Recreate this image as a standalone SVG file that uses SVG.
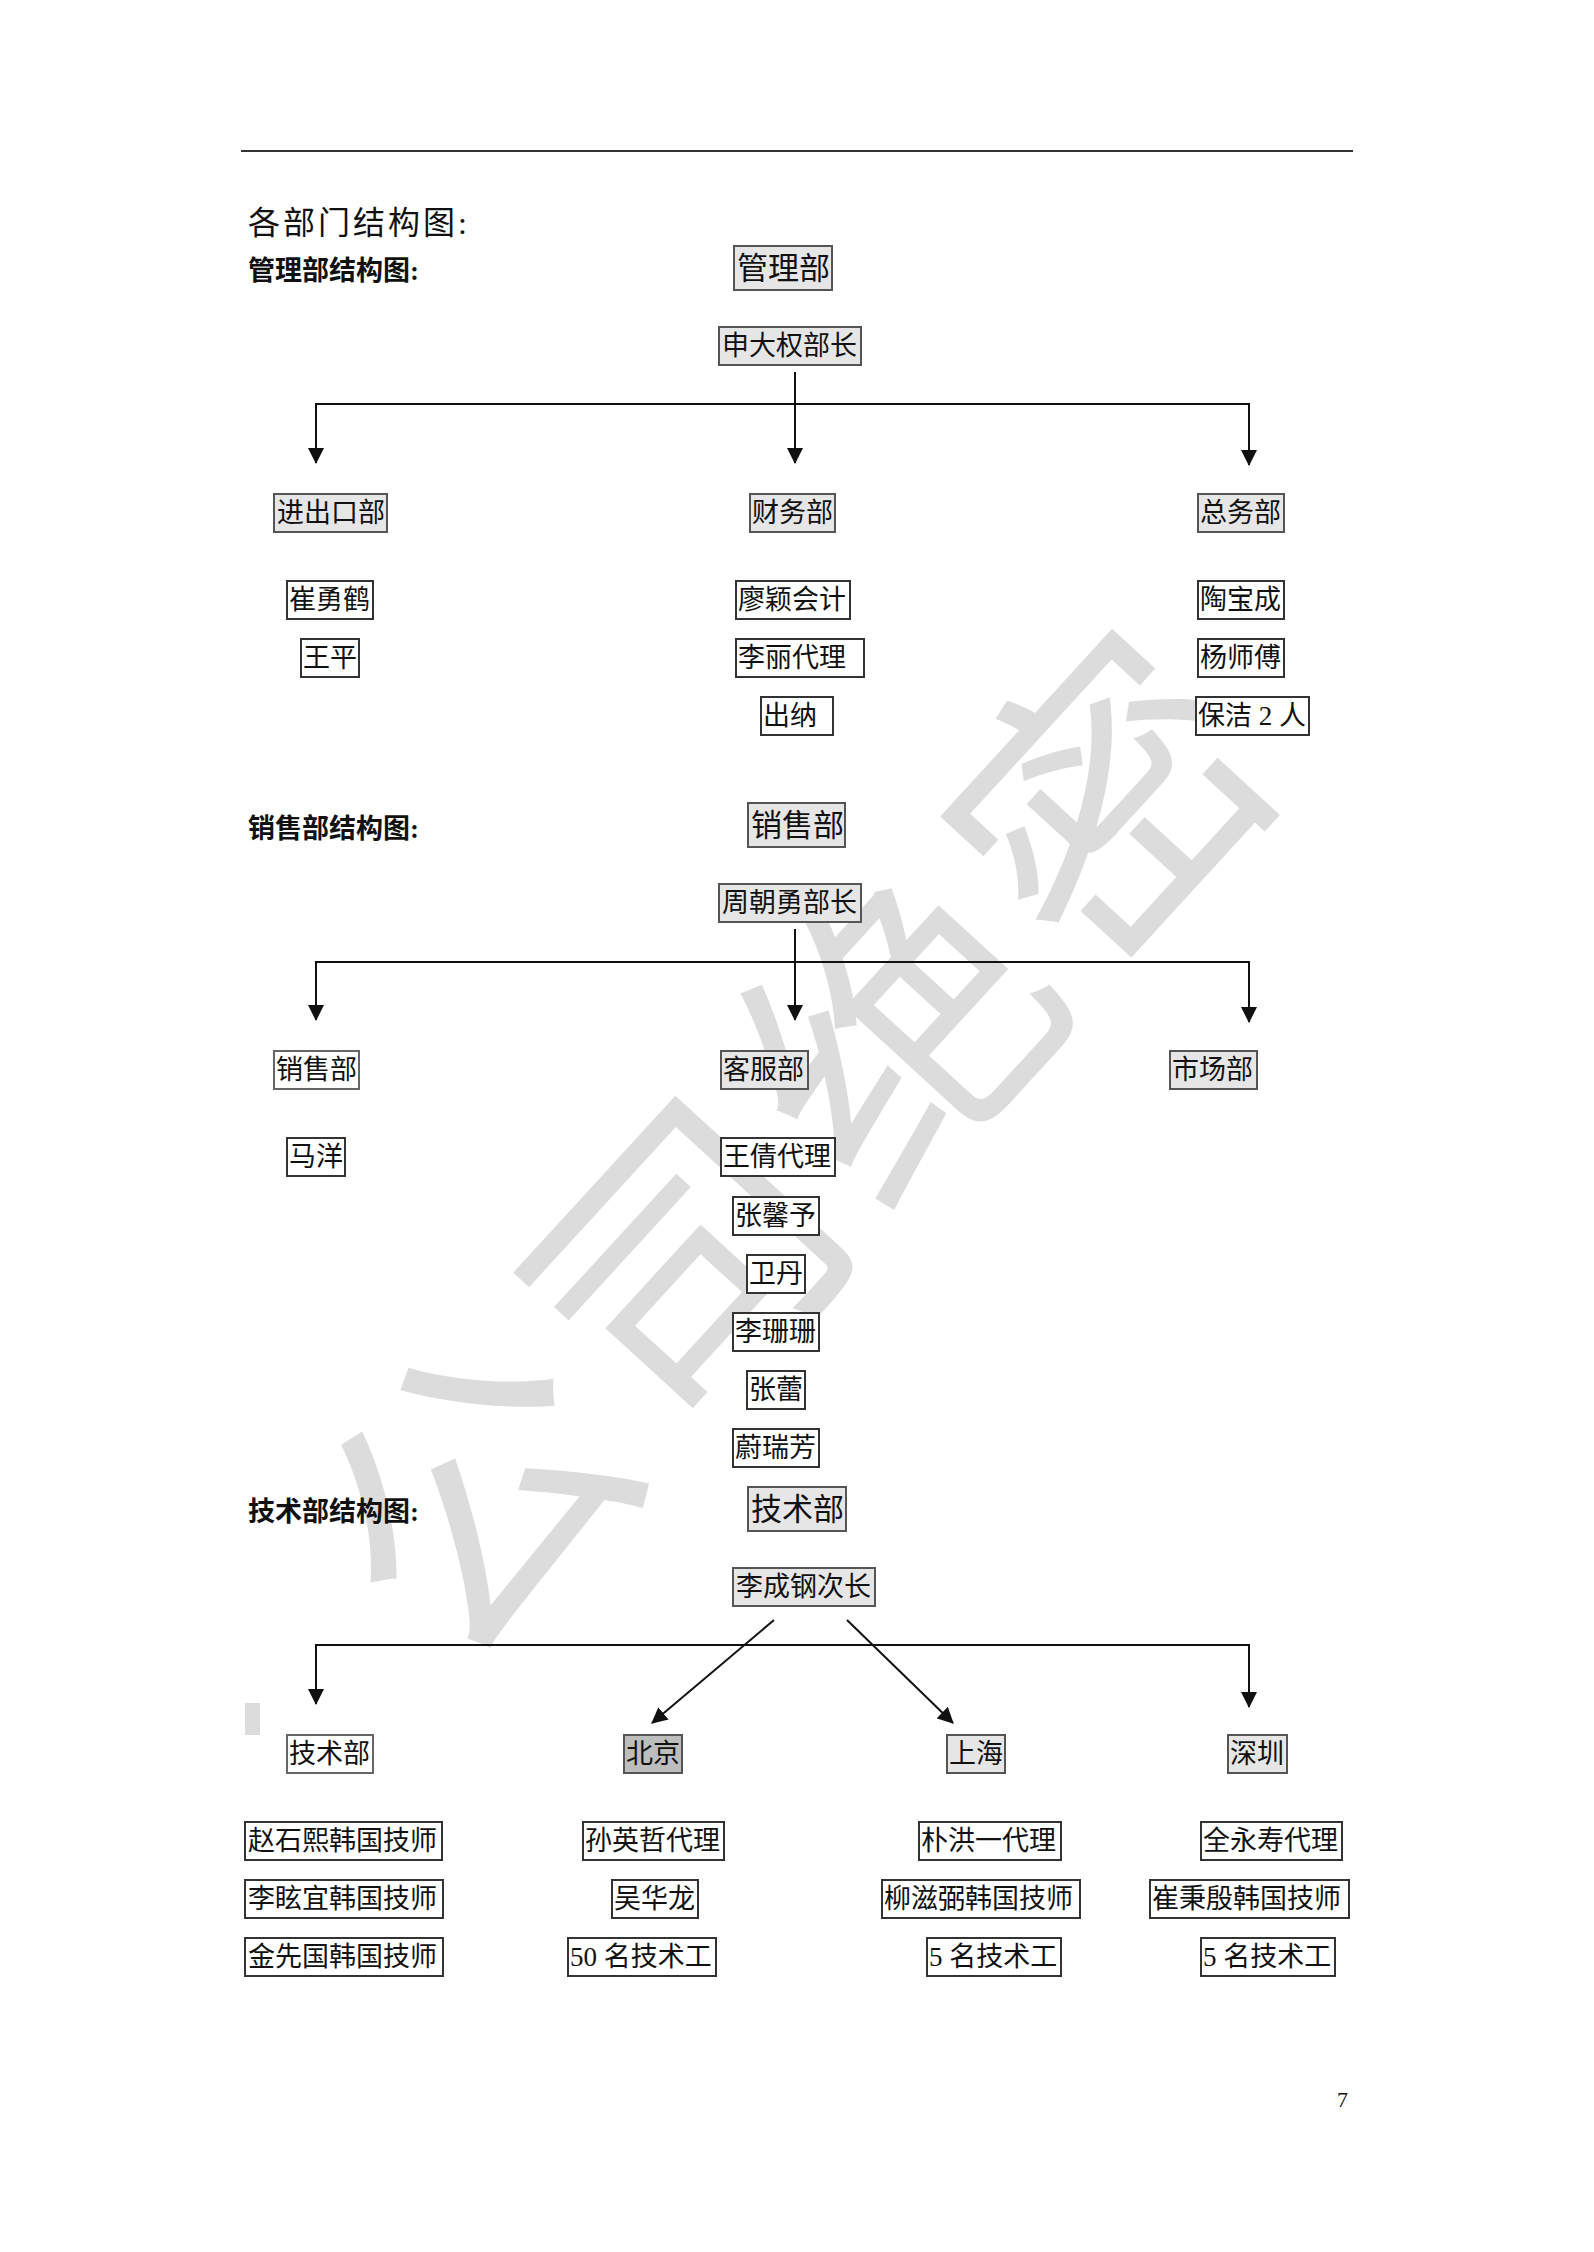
<svg xmlns="http://www.w3.org/2000/svg" width="1594" height="2252" viewBox="0 0 1594 2252">
<style>
  text { font-family: "Liberation Serif", "Noto Sans CJK SC", serif; fill: #111; }
  .t { font-size: 27px; }
  .tb { font-size: 31px; }
  .h { font-size: 27px; font-weight: bold; }
  .title { font-size: 32px; letter-spacing: 3px; }
  .dept rect { fill: #e6e6e6; stroke: #555; stroke-width: 2; }
  .plain rect { fill: #ffffff; stroke: #666; stroke-width: 2; }
  .dark rect { fill: #bdbdbd; stroke: #555; stroke-width: 2; }
  .person rect { fill: #ffffff; stroke: #333; stroke-width: 2; }
  .conn path { fill: none; stroke: #111; stroke-width: 2; }
  .wm { font-size: 300px; fill: #dcdcdc; font-weight: normal; letter-spacing: 14px; }
</style>
<defs>
  <marker id="ah" markerUnits="userSpaceOnUse" markerWidth="16" markerHeight="16" viewBox="0 0 16 16" refX="15" refY="8" orient="auto">
    <path d="M0,0 L16,8 L0,16 z" fill="#111"/>
  </marker>
</defs>
<rect x="0" y="0" width="1594" height="2252" fill="#ffffff"/>

<g id="watermark">
  <text class="wm" transform="translate(797,1152) rotate(-47.5)" x="7" y="105" text-anchor="middle">公司绝密</text>
  <rect x="245" y="1703" width="15" height="32" fill="#dcdcdc"/>
</g>

<g id="page-header">
  <line x1="241" y1="151" x2="1353" y2="151" stroke="#333" stroke-width="2"/>
  <text class="title" x="248" y="234">各部门结构图:</text>
  <text x="1337" y="2107" style="font-size:22px">7</text>
</g>

<g id="headings">
  <text class="h" x="248" y="280">管理部结构图:</text>
  <text class="h" x="248" y="838">销售部结构图:</text>
  <text class="h" x="248" y="1521">技术部结构图:</text>
</g>

<g id="connectors" class="conn">
  <path d="M795,372 V463" marker-end="url(#ah)"/>
  <path d="M316,463 V404 H1249 V465" marker-end="url(#ah)"/>
  <path d="M316,404 V463" marker-end="url(#ah)"/>

  <path d="M795,929 V1020" marker-end="url(#ah)"/>
  <path d="M316,1020 V962 H1249 V1022" marker-end="url(#ah)"/>
  <path d="M316,962 V1020" marker-end="url(#ah)"/>

  <path d="M774,1620 L652,1723" marker-end="url(#ah)"/>
  <path d="M847,1620 L953,1723" marker-end="url(#ah)"/>
  <path d="M316,1704 V1645 H1249 V1707" marker-end="url(#ah)"/>
  <path d="M316,1645 V1704" marker-end="url(#ah)"/>
</g>

<!-- Section 1 -->
<g id="n-guanlibu" class="dept"><rect x="734" y="246" width="98" height="44"/><text class="tb" x="737" y="279">管理部</text></g>
<g id="n-shendaquan" class="dept"><rect x="719" y="327" width="142" height="38"/><text class="t" x="722" y="355">申大权部长</text></g>
<g id="n-jinchukou" class="dept"><rect x="274" y="494" width="113" height="38"/><text class="t" x="277" y="522">进出口部</text></g>
<g id="n-caiwu" class="dept"><rect x="750" y="494" width="85" height="38"/><text class="t" x="752" y="522">财务部</text></g>
<g id="n-zongwu" class="dept"><rect x="1198" y="494" width="86" height="38"/><text class="t" x="1200" y="522">总务部</text></g>
<g id="n-cuiyonghe" class="person"><rect x="287" y="581" width="86" height="38"/><text class="t" x="289" y="609">崔勇鹤</text></g>
<g id="n-wangping" class="person"><rect x="301" y="639" width="58" height="38"/><text class="t" x="303" y="667">王平</text></g>
<g id="n-liaoying" class="person"><rect x="736" y="581" width="114" height="38"/><text class="t" x="738" y="609">廖颖会计</text></g>
<g id="n-lili" class="person"><rect x="736" y="639" width="128" height="38"/><text class="t" x="738" y="667">李丽代理</text></g>
<g id="n-chuna" class="person"><rect x="761" y="697" width="72" height="38"/><text class="t" x="763" y="725">出纳</text></g>
<g id="n-taobaocheng" class="person"><rect x="1198" y="581" width="86" height="38"/><text class="t" x="1200" y="609">陶宝成</text></g>
<g id="n-yangshifu" class="person"><rect x="1198" y="639" width="86" height="38"/><text class="t" x="1200" y="667">杨师傅</text></g>
<g id="n-baojie" class="person"><rect x="1196" y="697" width="113" height="38"/><text class="t" x="1198" y="725">保洁 2 人</text></g>

<!-- Section 2 -->
<g id="n-xiaoshoubu" class="dept"><rect x="748" y="803" width="97" height="44"/><text class="tb" x="751" y="836">销售部</text></g>
<g id="n-zhouchaoyong" class="dept"><rect x="719" y="884" width="142" height="38"/><text class="t" x="722" y="912">周朝勇部长</text></g>
<g id="n-xiaoshou-sub" class="plain"><rect x="274" y="1051" width="85" height="38"/><text class="t" x="276" y="1079">销售部</text></g>
<g id="n-kefu" class="dept"><rect x="721" y="1051" width="87" height="38"/><text class="t" x="723" y="1079">客服部</text></g>
<g id="n-shichang" class="dept"><rect x="1170" y="1051" width="87" height="38"/><text class="t" x="1172" y="1079">市场部</text></g>
<g id="n-mayang" class="person"><rect x="287" y="1138" width="58" height="38"/><text class="t" x="289" y="1166">马洋</text></g>
<g id="n-wangqian" class="person"><rect x="721" y="1138" width="114" height="38"/><text class="t" x="723" y="1166">王倩代理</text></g>
<g id="n-zhangxinyu" class="person"><rect x="733" y="1197" width="86" height="38"/><text class="t" x="735" y="1225">张馨予</text></g>
<g id="n-weidan" class="person"><rect x="747" y="1255" width="58" height="38"/><text class="t" x="749" y="1283">卫丹</text></g>
<g id="n-lishanshan" class="person"><rect x="733" y="1313" width="86" height="38"/><text class="t" x="735" y="1341">李珊珊</text></g>
<g id="n-zhanglei" class="person"><rect x="747" y="1371" width="58" height="38"/><text class="t" x="749" y="1399">张蕾</text></g>
<g id="n-weiruifang" class="person"><rect x="733" y="1429" width="86" height="38"/><text class="t" x="735" y="1457">蔚瑞芳</text></g>

<!-- Section 3 -->
<g id="n-jishubu" class="dept"><rect x="748" y="1487" width="98" height="44"/><text class="tb" x="751" y="1520">技术部</text></g>
<g id="n-lichenggang" class="dept"><rect x="733" y="1568" width="142" height="38"/><text class="t" x="736" y="1596">李成钢次长</text></g>
<g id="n-jishu-sub" class="plain"><rect x="287" y="1735" width="86" height="38"/><text class="t" x="289" y="1763">技术部</text></g>
<g id="n-beijing" class="dark"><rect x="624" y="1735" width="58" height="38"/><text class="t" x="626" y="1763">北京</text></g>
<g id="n-shanghai" class="dept"><rect x="947" y="1735" width="58" height="38"/><text class="t" x="949" y="1763">上海</text></g>
<g id="n-shenzhen" class="dept"><rect x="1228" y="1735" width="59" height="38"/><text class="t" x="1230" y="1763">深圳</text></g>
<g id="n-zhaoshixi" class="person"><rect x="245" y="1822" width="197" height="38"/><text class="t" x="248" y="1850">赵石熙韩国技师</text></g>
<g id="n-lixuanyi" class="person"><rect x="245" y="1880" width="198" height="38"/><text class="t" x="248" y="1908">李眩宜韩国技师</text></g>
<g id="n-jinxianguo" class="person"><rect x="245" y="1938" width="198" height="38"/><text class="t" x="248" y="1966">金先国韩国技师</text></g>
<g id="n-sunyingzhe" class="person"><rect x="583" y="1822" width="141" height="38"/><text class="t" x="585" y="1850">孙英哲代理</text></g>
<g id="n-wuhualong" class="person"><rect x="612" y="1880" width="86" height="38"/><text class="t" x="614" y="1908">吴华龙</text></g>
<g id="n-bj-workers" class="person"><rect x="568" y="1938" width="148" height="38"/><text class="t" x="570" y="1966">50 名技术工</text></g>
<g id="n-piaohongyi" class="person"><rect x="919" y="1822" width="142" height="38"/><text class="t" x="921" y="1850">朴洪一代理</text></g>
<g id="n-liuzibi" class="person"><rect x="882" y="1880" width="198" height="38"/><text class="t" x="884" y="1908">柳滋弼韩国技师</text></g>
<g id="n-sh-workers" class="person"><rect x="927" y="1938" width="134" height="38"/><text class="t" x="929" y="1966">5 名技术工</text></g>
<g id="n-quanyongshou" class="person"><rect x="1201" y="1822" width="141" height="38"/><text class="t" x="1203" y="1850">全永寿代理</text></g>
<g id="n-cuibingyin" class="person"><rect x="1150" y="1880" width="199" height="38"/><text class="t" x="1152" y="1908">崔秉殷韩国技师</text></g>
<g id="n-sz-workers" class="person"><rect x="1201" y="1938" width="134" height="38"/><text class="t" x="1203" y="1966">5 名技术工</text></g>
</svg>
